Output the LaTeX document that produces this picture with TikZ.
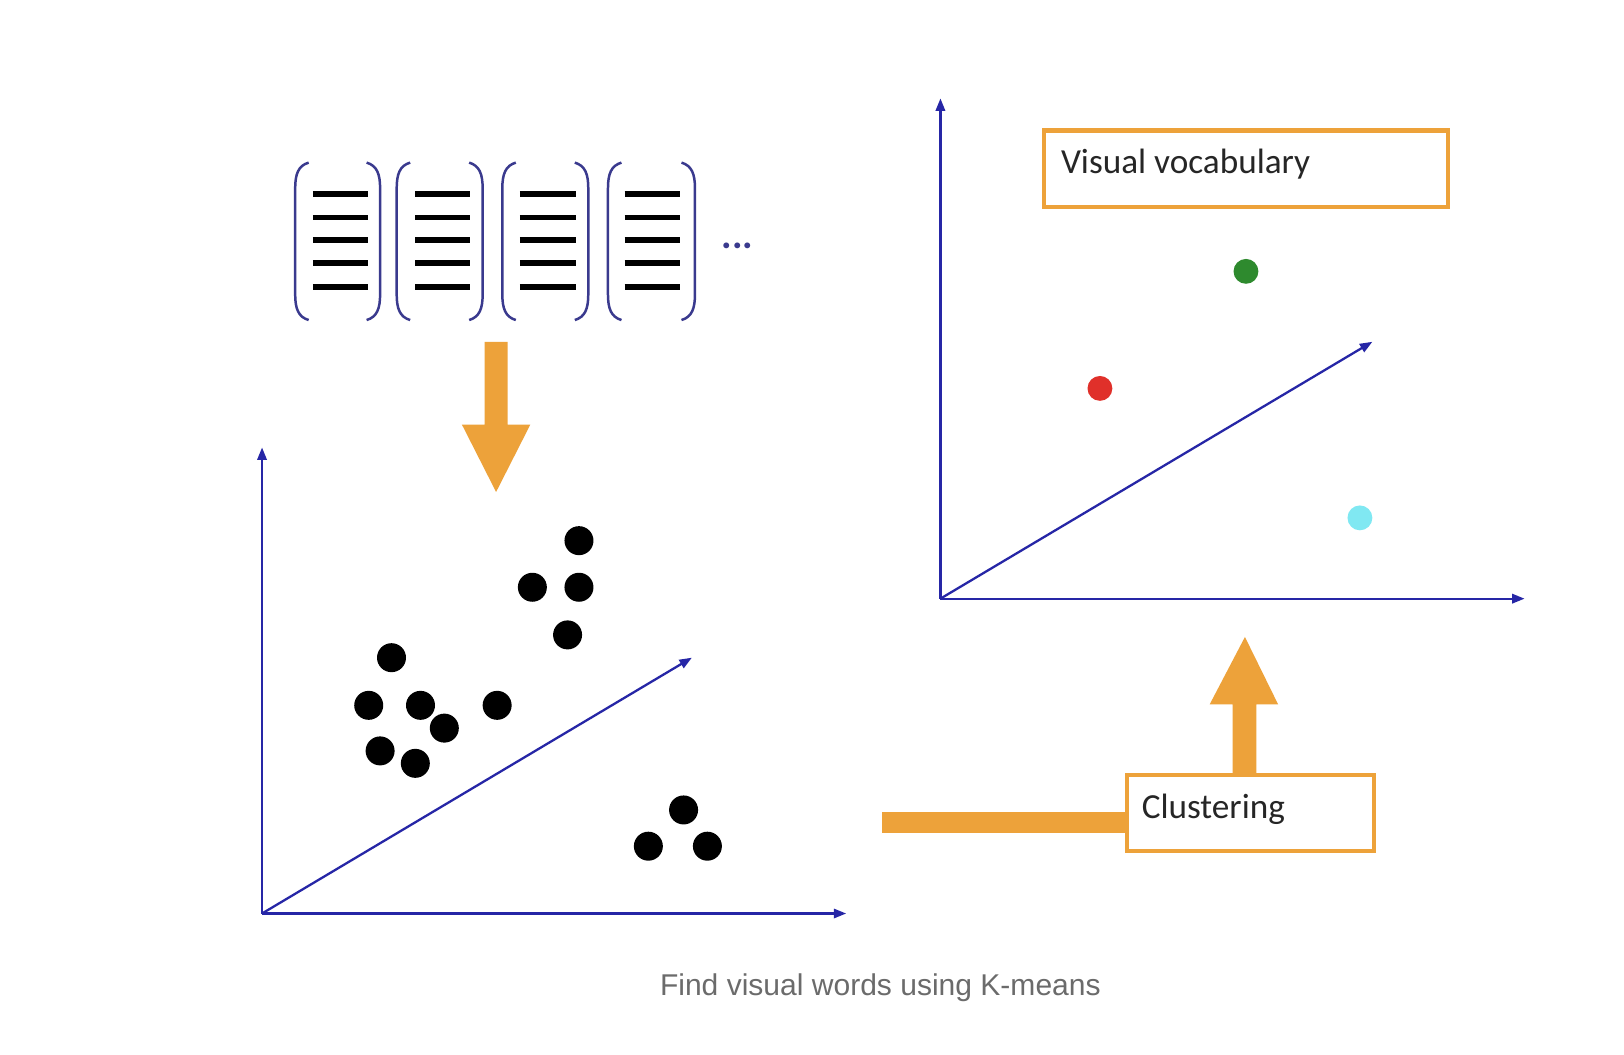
\documentclass[tikz,border=0pt]{standalone}
\usepackage{fontspec}
\setmainfont{Carlito}
\newfontfamily\capfont{Liberation Sans}
\usetikzlibrary{arrows.meta}
\definecolor{axisblue}{HTML}{2626A6}
\definecolor{brblue}{HTML}{3A3A8E}
\definecolor{korange}{HTML}{EDA23A}
\definecolor{kgreen}{HTML}{2E8A2E}
\definecolor{kred}{HTML}{E0302A}
\definecolor{kcyan}{HTML}{80E8F2}
\definecolor{capgray}{HTML}{6B6B6B}
\begin{document}
\begin{tikzpicture}[x=0.5pt,y=-0.5pt,
  axis/.style={draw=axisblue,line width=1.1pt,-{Triangle[length=6pt,width=4.5pt]}},
  bdot/.style={circle,fill=black,inner sep=0pt,minimum size=14pt},
  cdot/.style={circle,inner sep=0pt,minimum size=12pt},
  brk/.style={draw=brblue,line width=1.2pt},
  featline/.style={draw=black,line width=2.8pt},
  obox/.style={draw=korange,line width=2pt,inner sep=0pt,fill=white},
  boxtext/.style={font=\fontsize{17}{20}\selectfont,text=black!85,inner sep=0pt,anchor=west},
  fatarrow/.style={fill=korange,draw=none}]
\useasboundingbox[fill=white] (0,0) rectangle (1568,1018);

% feature vectors in brackets
\foreach \L/\R/\a/\b [count=\k] in {285/367/302/355, 383/466/401/454, 485/568/502/556, 587/671/603/657}{
  \draw[brk] (\L+13,157) .. controls (\L+3,160) and (\L,168) .. (\L,182) -- (\L,284) .. controls (\L,298) and (\L+3,306) .. (\L+13,309);
  \draw[brk] (\R-13,157) .. controls (\R-3,160) and (\R,168) .. (\R,182) -- (\R,284) .. controls (\R,298) and (\R-3,306) .. (\R-13,309);
  \foreach \y in {187,210,232,254,277}{
    \draw[featline] (\a,\y) -- (\b,\y);
  }
}
\node[anchor=base,inner sep=0pt,text=brblue,font=\fontsize{19}{20}\selectfont\bfseries] (ell) at (712,240) {...};

% down arrow
\fill[fatarrow] (468,330) -- (490,330) -- (490,410) -- (512,410) -- (479,475) -- (446,410) -- (468,410) -- cycle;

% left axes
\coordinate (O1) at (253,882);
\coordinate (Y1) at (253,432);
\coordinate (X1) at (817,882);
\coordinate (Z1) at (668,635);
\draw[axis] (O1) -- (Y1);
\draw[axis] (O1) -- (X1);
\draw[axis] (O1) -- (Z1);

\foreach \p [count=\i] in {(559,522),(514,567),(559,567),(548,613),(378,635),(356,681),(406,681),(429,703),(480,681),(367,725),(401,737),(660,782),(626,817),(683,817)}{
  \node[bdot] (d\i) at \p {};
}

% right axes
\coordinate (O2) at (908,578);
\coordinate (Y2) at (908,95);
\coordinate (X2) at (1472,578);
\coordinate (Z2) at (1325,330);
\draw[axis] (O2) -- (Y2);
\draw[axis] (O2) -- (X2);
\draw[axis] (O2) -- (Z2);

\node[obox,minimum width=195pt,minimum height=37pt] (vv) at (1203,163) {};
\node[boxtext] (vvt) at (1024,158) {Visual vocabulary};

\node[cdot,fill=kgreen] (cg) at (1203,262) {};
\node[cdot,fill=kred] (cr) at (1062,375) {};
\node[cdot,fill=kcyan] (cc) at (1313,500) {};

% clustering
\coordinate (barstart) at (852,794);
\node[obox,minimum width=119.5pt,minimum height=37pt] (cl) at (1207.5,785) {};
\node[boxtext] (clt) at (1102,781) {Clustering};
\fill[korange] (barstart) ++(0,-10) rectangle (cl.west |- 0,804);
\fill[fatarrow] (1190,748) -- (1213,748) -- (1213,680) -- (1234,680) -- (1202,615) -- (1168,680) -- (1190,680) -- cycle;

% caption
\node[font=\capfont\fontsize{14.5}{17}\selectfont,text=capgray,inner sep=0pt] (cap) at (850,954) {Find visual words using K-means};
\end{tikzpicture}
\end{document}
